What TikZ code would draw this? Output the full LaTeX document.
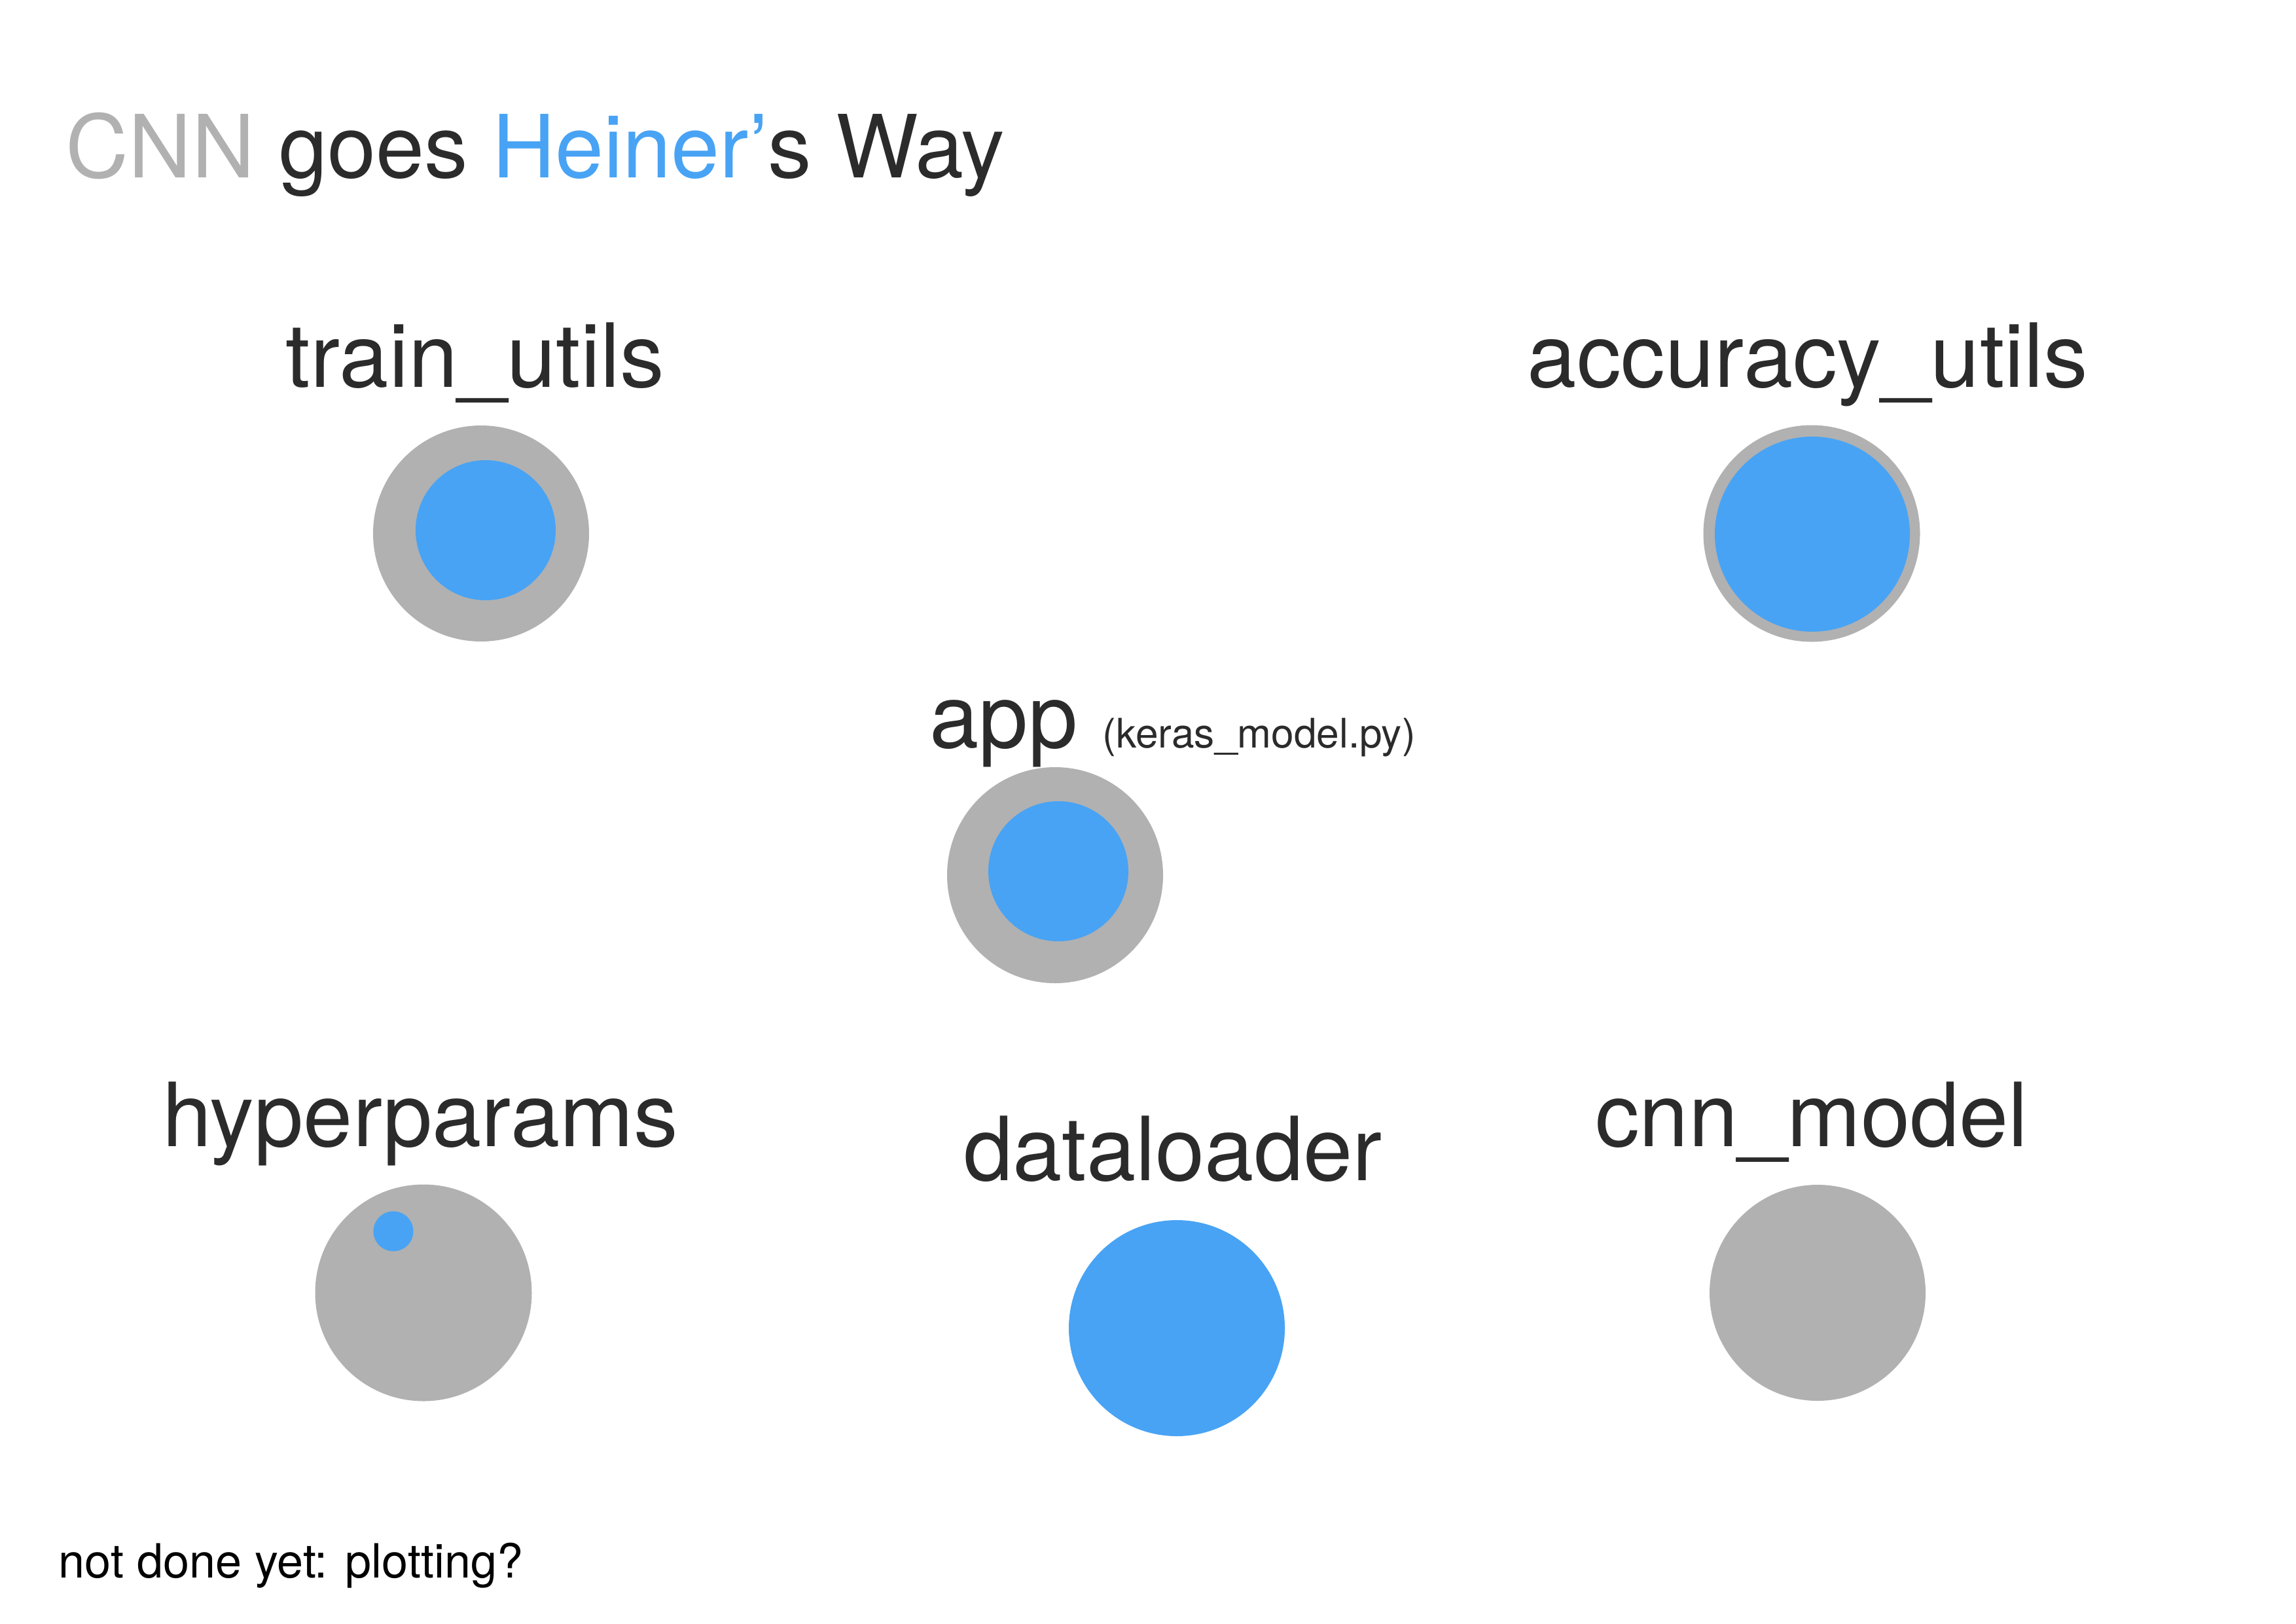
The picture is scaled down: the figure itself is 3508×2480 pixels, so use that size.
\documentclass[tikz,border=0pt]{standalone}
\usepackage{fontspec}
\setmainfont{TeX Gyre Heros}
\definecolor{cgray}{HTML}{B1B1B1}
\definecolor{cblue}{HTML}{48A3F4}
\definecolor{ctext}{HTML}{2B2B2B}
\tikzset{
  dot/.style={circle, inner sep=0pt, draw=none},
  lbl/.style={anchor=base, inner sep=0pt, text=ctext, font=\fontsize{38.5}{46}\selectfont},
}
\begin{document}
\begin{tikzpicture}[x=0.1mm, y=-0.1mm]
\fill[white] (0,0) rectangle (3508,2480);
\useasboundingbox (0,0) rectangle (3508,2480);
% title
\node[anchor=base west, inner sep=0pt, text=ctext, font=\fontsize{37.9}{45}\selectfont] (title) at (100,271)
  {{\color{cgray}CNN} goes {\color{cblue}Heiner’}s Way};
% train_utils
\node[lbl] (ltrain) at (726,591) {train\_utils};
\node[dot, fill=cgray, minimum size=33mm] (train) at (735,815) {};
\node[dot, fill=cblue, minimum size=21.4mm] (traini) at (742,810) {};
% accuracy_utils
\node[lbl] (lacc) at (2762,591) {accuracy\_utils};
\node[dot, fill=cgray, minimum size=33.1mm] (acc) at (2768,815) {};
\node[dot, fill=cblue, minimum size=29.8mm] (acci) at (2769,816) {};
% app
\node[anchor=base west, inner sep=0pt, text=ctext, font=\fontsize{38.5}{46}\selectfont] (lapp) at (1420,1142) {app};
\node[anchor=base west, inner sep=0pt, text=ctext, font=\fontsize{17.7}{21}\selectfont] (lkeras) at (1684,1142) {(keras\_model.py)};
\node[dot, fill=cgray, minimum size=33mm] (app) at (1612,1337) {};
\node[dot, fill=cblue, minimum size=21.4mm] (appi) at (1617,1331) {};
% hyperparams
\node[lbl] (lhyper) at (642,1751) {hyperparams};
\node[dot, fill=cgray, minimum size=33.1mm] (hyper) at (647,1975) {};
\node[dot, fill=cblue, minimum size=6.1mm] (hyperi) at (601,1881) {};
% dataloader
\node[lbl] (ldata) at (1792,1803) {dataloader};
\node[dot, fill=cblue, minimum size=33mm] (data) at (1798,2029) {};
% cnn_model
\node[lbl] (lcnn) at (2768,1751) {cnn\_model};
\node[dot, fill=cgray, minimum size=33mm] (cnn) at (2777,1975) {};
% note
\node[anchor=base west, inner sep=0pt, text=black, font=\fontsize{20.5}{24}\selectfont] (note) at (89,2410) {not done yet: plotting?};
\end{tikzpicture}
\end{document}
